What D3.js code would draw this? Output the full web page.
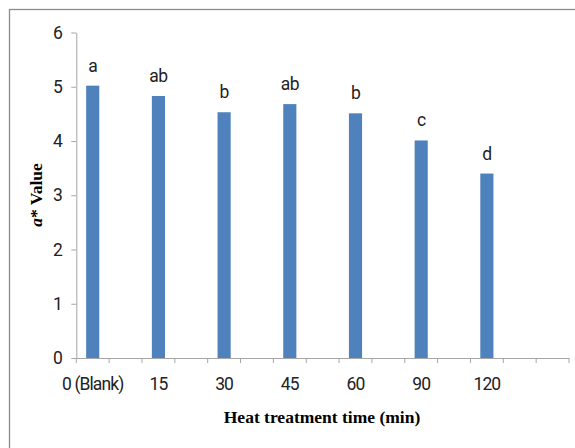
<!DOCTYPE html>
<html>
<head>
<meta charset="utf-8">
<script src="https://cdn.jsdelivr.net/npm/d3@7"></script>
<style>
  body { margin: 0; background: #fff; }
  svg { display: block; }
</style>
</head>
<body>
<svg id="chart"></svg>
<script>
// categories (Excel style: every other slot is empty)
const categories = ["0 (Blank)", "", "15", "", "30", "", "45", "", "60", "", "90", "", "120", "", ""];
const values     = [5.02, null, 4.83, null, 4.53, null, 4.68, null, 4.51, null, 4.01, null, 3.40, null, null];
const letters    = ["a", "", "ab", "", "b", "", "ab", "", "b", "", "c", "", "d", "", ""];
const yTicks     = [0, 1, 2, 3, 4, 5, 6];

const W = 575, H = 448;
const margin = {top: 32.5, right: 6, bottom: 90, left: 76.3};
const width = W - margin.left - margin.right,
    height = H - margin.top - margin.bottom;

const tickFont = "Roboto, 'Liberation Sans', sans-serif";

var svg = d3.select("#chart")
    .attr("width", W)
    .attr("height", H);

// outer chart border (cropped on right/bottom)
svg.append("rect")
    .attr("x", 9.5).attr("y", 9.5)
    .attr("width", W + 10).attr("height", H + 10)
    .attr("fill", "none")
    .attr("stroke", "#8c8c8c")
    .attr("stroke-width", 1.3);

var g = svg.append("g")
    .attr("transform", `translate(${margin.left},${margin.top})`);

var x = d3.scaleBand()
    .domain(d3.range(categories.length))
    .range([0, width])
    .padding(0);

var y = d3.scaleLinear()
    .domain([0, 6])
    .range([height, 0]);

// y axis
var yAxis = g.append("g")
    .call(d3.axisLeft(y).tickValues(yTicks).tickFormat(d3.format("d"))
        .tickSize(5).tickPadding(9).tickSizeOuter(0));
yAxis.select(".domain").attr("stroke", "#a6a6a6");
yAxis.selectAll(".tick line").attr("stroke", "#a6a6a6");
yAxis.selectAll("text")
    .attr("font-family", tickFont)
    .attr("font-size", 17.5)
    .attr("letter-spacing", -0.6)
    .attr("fill", "#222");

// x axis: labels at centers, ticks at slot boundaries
var xAxis = g.append("g")
    .attr("transform", `translate(0,${height})`)
    .call(d3.axisBottom(x).tickFormat(i => categories[i]).tickSize(0).tickPadding(20));
xAxis.select(".domain").attr("stroke", "#a6a6a6");
xAxis.selectAll("text")
    .attr("font-family", tickFont)
    .attr("font-size", 17.5)
    .attr("letter-spacing", -0.9)
    .attr("fill", "#222");

xAxis.selectAll(".bound")
    .data(d3.range(categories.length + 1))
    .join("line")
    .attr("class", "bound")
    .attr("x1", i => i < categories.length ? x(i) : x(i - 1) + x.bandwidth())
    .attr("x2", i => i < categories.length ? x(i) : x(i - 1) + x.bandwidth())
    .attr("y1", 0).attr("y2", 5)
    .attr("stroke", "#a6a6a6");

// bars
const barW = x.bandwidth() * 0.4;
const pts = d3.range(categories.length).filter(i => values[i] != null);

g.selectAll(".bar")
    .data(pts)
    .join("rect")
    .attr("class", "bar")
    .attr("x", i => x(i) + (x.bandwidth() - barW) / 2)
    .attr("y", i => y(values[i]))
    .attr("width", barW)
    .attr("height", i => height - y(values[i]))
    .attr("fill", "#4f81bd");

// significance letters
g.selectAll(".lbl")
    .data(pts)
    .join("text")
    .attr("class", "lbl")
    .attr("x", i => x(i) + x.bandwidth() / 2)
    .attr("y", i => y(values[i]) - 14)
    .attr("text-anchor", "middle")
    .attr("font-family", tickFont)
    .attr("font-size", 17.5)
    .attr("letter-spacing", -0.6)
    .attr("fill", "#222")
    .text(i => letters[i]);

// axis titles
svg.append("text")
    .attr("x", 322)
    .attr("y", 423)
    .attr("text-anchor", "middle")
    .attr("font-family", "'Liberation Serif', 'Times New Roman', serif")
    .attr("font-weight", "bold")
    .attr("font-size", 17.5)
    .attr("fill", "#000")
    .text("Heat treatment time (min)");

var yt = svg.append("text")
    .attr("transform", "translate(42,195) rotate(-90)")
    .attr("text-anchor", "middle")
    .attr("font-family", "'Liberation Serif', 'Times New Roman', serif")
    .attr("font-weight", "bold")
    .attr("font-size", 17.5)
    .attr("fill", "#000");
yt.append("tspan").attr("font-style", "italic").text("a");
yt.append("tspan").text("* Value");
</script>
</body>
</html>
